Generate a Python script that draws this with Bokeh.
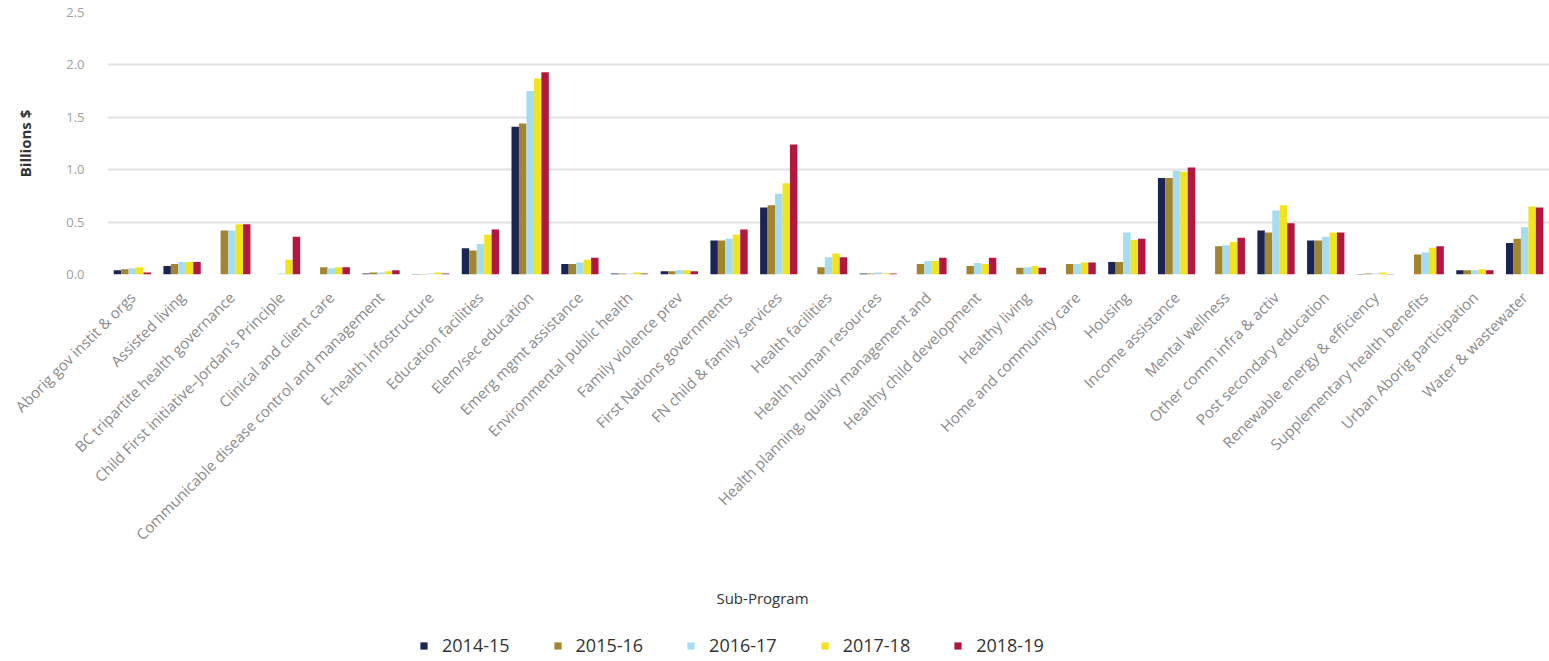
import numpy as np
from bokeh.plotting import figure
from bokeh.layouts import column
from bokeh.models import (ColumnDataSource, FactorRange, FixedTicker, PrintfTickFormatter,
                          Legend, LegendItem, Range1d)
from bokeh.core.properties import value
from bokeh.transform import dodge
from bokeh.embed import file_html
from bokeh.resources import INLINE

categories = [
    "Aborig gov instit & orgs",
    "Assisted living",
    "BC tripartite health governance",
    "Child First initiative–Jordan's Principle",
    "Clinical and client care",
    "Communicable disease control and management",
    "E-health infostructure",
    "Education facilities",
    "Elem/sec education",
    "Emerg mgmt assistance",
    "Environmental public health",
    "Family violence prev",
    "First Nations governments",
    "FN child & family services",
    "Health facilities",
    "Health human resources",
    "Health planning, quality management and",
    "Healthy child development",
    "Healthy living",
    "Home and community care",
    "Housing",
    "Income assistance",
    "Mental wellness",
    "Other comm infra & activ",
    "Post secondary education",
    "Renewable energy & efficiency",
    "Supplementary health benefits",
    "Urban Aborig participation",
    "Water & wastewater",
]

series_names = ["2014-15", "2015-16", "2016-17", "2017-18", "2018-19"]

v_2014_15 = [0.04, 0.08, 0.00, 0.00, 0.00, 0.01, 0.005, 0.25, 1.41, 0.10, 0.01, 0.03, 0.325, 0.64,
             0.00, 0.01, 0.00, 0.00, 0.00, 0.00, 0.12, 0.92, 0.00, 0.42, 0.325, 0.005, 0.00, 0.04, 0.30]
v_2015_16 = [0.05, 0.10, 0.42, 0.00, 0.07, 0.02, 0.005, 0.23, 1.44, 0.10, 0.01, 0.03, 0.325, 0.66,
             0.07, 0.01, 0.10, 0.08, 0.065, 0.10, 0.12, 0.92, 0.27, 0.40, 0.325, 0.01, 0.19, 0.04, 0.34]
v_2016_17 = [0.06, 0.12, 0.42, 0.01, 0.06, 0.02, 0.01, 0.29, 1.75, 0.115, 0.01, 0.04, 0.34, 0.77,
             0.165, 0.02, 0.13, 0.11, 0.07, 0.10, 0.40, 0.99, 0.28, 0.61, 0.36, 0.01, 0.21, 0.04, 0.45]
v_2017_18 = [0.07, 0.12, 0.48, 0.14, 0.07, 0.03, 0.02, 0.38, 1.87, 0.14, 0.02, 0.04, 0.38, 0.87,
             0.20, 0.01, 0.13, 0.10, 0.08, 0.115, 0.33, 0.98, 0.31, 0.66, 0.40, 0.02, 0.255, 0.05, 0.65]
v_2018_19 = [0.02, 0.12, 0.48, 0.36, 0.07, 0.04, 0.01, 0.43, 1.93, 0.16, 0.01, 0.03, 0.43, 1.24,
             0.165, 0.01, 0.16, 0.16, 0.065, 0.115, 0.34, 1.02, 0.35, 0.49, 0.40, 0.005, 0.27, 0.04, 0.64]

y_ticks = [0.0, 0.5, 1.0, 1.5, 2.0, 2.5]
x_title = "Sub-Program"
y_title = "Billions $"

colors = ["#1b2552", "#a38530", "#a6dcef", "#f0e41c", "#b4173e"]

values = [v_2014_15, v_2015_16, v_2016_17, v_2017_18, v_2018_19]
data = {"cat": categories}
for name, vals in zip(series_names, values):
    data[name] = vals
source = ColumnDataSource(data)

W = 1549
H1 = 580
H2 = 81
LEFT = 107

p = figure(x_range=FactorRange(*categories), y_range=Range1d(0, 2.5),
           width=W, height=H1, output_backend="svg", toolbar_location=None,
           min_border_left=LEFT, min_border_right=0, min_border_top=12,
           min_border_bottom=H1 - 274)
p.outline_line_color = None

bw = 0.15
offsets = [-2 * bw, -bw, 0, bw, 2 * bw]
renderers = []
for name, col, off in zip(series_names, colors, offsets):
    r = p.vbar(x=dodge("cat", off, range=p.x_range), top=name, width=bw, source=source,
               fill_color=col, line_color=None)
    renderers.append(r)

# grid
p.xgrid.grid_line_color = None
p.ygrid.grid_line_color = "#e2e2e2"
p.ygrid.grid_line_width = 2
p.yaxis.ticker = FixedTicker(ticks=y_ticks)
p.yaxis.formatter = PrintfTickFormatter(format="%.1f")

# y axis
p.yaxis.axis_line_color = None
p.yaxis.major_tick_line_color = None
p.yaxis.minor_tick_line_color = None
p.yaxis.major_label_text_color = "#a0a0a0"
p.yaxis.major_label_text_font = "Open Sans"
p.yaxis.major_label_text_font_size = "13px"
p.yaxis.major_label_standoff = 17
p.yaxis.axis_label = y_title
p.yaxis.axis_label_text_font = "Open Sans"
p.yaxis.axis_label_text_font_style = "bold"
p.yaxis.axis_label_text_font_size = "15px"
p.yaxis.axis_label_text_color = "#333333"
p.yaxis.axis_label_standoff = 28

# x axis
p.xaxis.axis_line_color = None
p.xaxis.major_tick_line_color = None
p.xaxis.minor_tick_line_color = None
p.xaxis.major_label_orientation = np.pi / 4
p.xaxis.major_label_text_color = "#8a8a8a"
p.xaxis.major_label_text_font = "Open Sans"
p.xaxis.major_label_text_font_size = "15px"
p.xaxis.major_label_standoff = 14

# lower strip: axis title and legend (frame aligned with the chart frame)
q = figure(x_range=Range1d(LEFT, W), y_range=Range1d(0, H2), width=W, height=H2,
           output_backend="svg", toolbar_location=None,
           x_axis_location=None, y_axis_location=None,
           min_border_left=LEFT, min_border_right=0, min_border_top=0, min_border_bottom=0)
q.outline_line_color = None
q.xgrid.grid_line_color = None
q.ygrid.grid_line_color = None
q.text(x=[762], y=[H2 - 17], text=[x_title], text_align="center", text_baseline="middle",
       text_font=value("Open Sans"), text_font_size="15px", text_color="#333333")

legend_renderers = []
for col in colors:
    lr = q.vbar(x=[LEFT], top=[0], width=0, fill_color=col, line_color=None)
    legend_renderers.append(lr)

legend = Legend(items=[LegendItem(label=n, renderers=[r]) for n, r in zip(series_names, legend_renderers)],
                orientation="horizontal", location=(419 - LEFT, 4))
legend.border_line_color = None
legend.background_fill_alpha = 0
legend.label_text_font = "Open Sans"
legend.label_text_font_size = "18px"
legend.label_text_color = "#333333"
legend.glyph_width = 9
legend.glyph_height = 9
legend.spacing = 43
legend.padding = 0
legend.margin = 0
legend.label_standoff = 14
q.add_layout(legend, "center")

layout = column(p, q, spacing=0)
open("out.html", "w").write(file_html(layout, INLINE))
